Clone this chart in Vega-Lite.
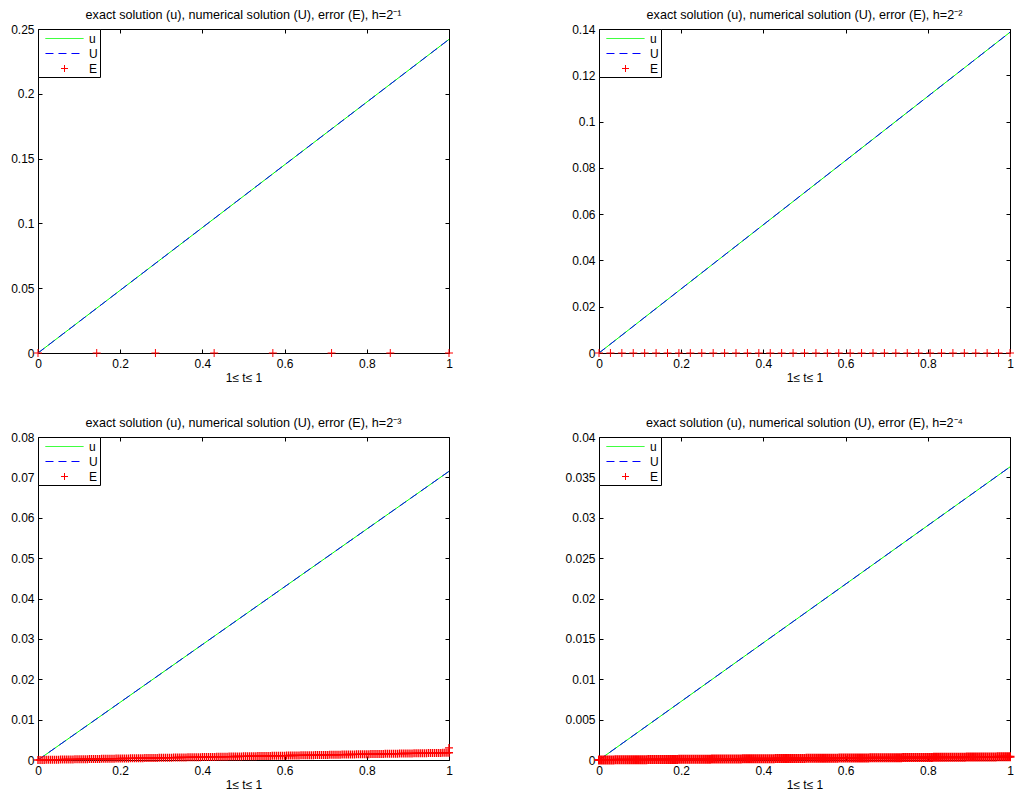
{
"$schema": "https://vega.github.io/schema/vega-lite/v6.json",
"background": "white",
"padding": {"left": 10, "top": 8, "right": 5, "bottom": 5},
"datasets": {
"err34": [
{"t":0,"e3":0,"e4":0},{"t":0.005,"e3":0.000009,"e4":0.000002},{"t":0.01,"e3":0.000018,"e4":0.000004},{"t":0.015,"e3":0.000027,"e4":0.000006},{"t":0.02,"e3":0.000036,"e4":0.000008},
{"t":0.025,"e3":0.000045,"e4":0.00001},{"t":0.03,"e3":0.000054,"e4":0.000012},{"t":0.035,"e3":0.000063,"e4":0.000014},{"t":0.04,"e3":0.000072,"e4":0.000016},{"t":0.045,"e3":0.000081,"e4":0.000018},
{"t":0.05,"e3":0.00009,"e4":0.00002},{"t":0.055,"e3":0.000099,"e4":0.000022},{"t":0.06,"e3":0.000108,"e4":0.000024},{"t":0.065,"e3":0.000117,"e4":0.000026},{"t":0.07,"e3":0.000126,"e4":0.000028},
{"t":0.075,"e3":0.000135,"e4":0.00003},{"t":0.08,"e3":0.000144,"e4":0.000032},{"t":0.085,"e3":0.000153,"e4":0.000034},{"t":0.09,"e3":0.000162,"e4":0.000036},{"t":0.095,"e3":0.000171,"e4":0.000038},
{"t":0.1,"e3":0.00018,"e4":0.00004},{"t":0.105,"e3":0.000189,"e4":0.000042},{"t":0.11,"e3":0.000198,"e4":0.000044},{"t":0.115,"e3":0.000207,"e4":0.000046},{"t":0.12,"e3":0.000216,"e4":0.000048},
{"t":0.125,"e3":0.000225,"e4":0.00005},{"t":0.13,"e3":0.000234,"e4":0.000052},{"t":0.135,"e3":0.000243,"e4":0.000054},{"t":0.14,"e3":0.000252,"e4":0.000056},{"t":0.145,"e3":0.000261,"e4":0.000058},
{"t":0.15,"e3":0.00027,"e4":0.00006},{"t":0.155,"e3":0.000279,"e4":0.000062},{"t":0.16,"e3":0.000288,"e4":0.000064},{"t":0.165,"e3":0.000297,"e4":0.000066},{"t":0.17,"e3":0.000306,"e4":0.000068},
{"t":0.175,"e3":0.000315,"e4":0.00007},{"t":0.18,"e3":0.000324,"e4":0.000072},{"t":0.185,"e3":0.000333,"e4":0.000074},{"t":0.19,"e3":0.000342,"e4":0.000076},{"t":0.195,"e3":0.000351,"e4":0.000078},
{"t":0.2,"e3":0.00036,"e4":0.00008},{"t":0.205,"e3":0.000369,"e4":0.000082},{"t":0.21,"e3":0.000378,"e4":0.000084},{"t":0.215,"e3":0.000387,"e4":0.000086},{"t":0.22,"e3":0.000396,"e4":0.000088},
{"t":0.225,"e3":0.000405,"e4":0.00009},{"t":0.23,"e3":0.000414,"e4":0.000092},{"t":0.235,"e3":0.000423,"e4":0.000094},{"t":0.24,"e3":0.000432,"e4":0.000096},{"t":0.245,"e3":0.000441,"e4":0.000098},
{"t":0.25,"e3":0.00045,"e4":0.0001},{"t":0.255,"e3":0.000459,"e4":0.000102},{"t":0.26,"e3":0.000468,"e4":0.000104},{"t":0.265,"e3":0.000477,"e4":0.000106},{"t":0.27,"e3":0.000486,"e4":0.000108},
{"t":0.275,"e3":0.000495,"e4":0.00011},{"t":0.28,"e3":0.000504,"e4":0.000112},{"t":0.285,"e3":0.000513,"e4":0.000114},{"t":0.29,"e3":0.000522,"e4":0.000116},{"t":0.295,"e3":0.000531,"e4":0.000118},
{"t":0.3,"e3":0.00054,"e4":0.00012},{"t":0.305,"e3":0.000549,"e4":0.000122},{"t":0.31,"e3":0.000558,"e4":0.000124},{"t":0.315,"e3":0.000567,"e4":0.000126},{"t":0.32,"e3":0.000576,"e4":0.000128},
{"t":0.325,"e3":0.000585,"e4":0.00013},{"t":0.33,"e3":0.000594,"e4":0.000132},{"t":0.335,"e3":0.000603,"e4":0.000134},{"t":0.34,"e3":0.000612,"e4":0.000136},{"t":0.345,"e3":0.000621,"e4":0.000138},
{"t":0.35,"e3":0.00063,"e4":0.00014},{"t":0.355,"e3":0.000639,"e4":0.000142},{"t":0.36,"e3":0.000648,"e4":0.000144},{"t":0.365,"e3":0.000657,"e4":0.000146},{"t":0.37,"e3":0.000666,"e4":0.000148},
{"t":0.375,"e3":0.000675,"e4":0.00015},{"t":0.38,"e3":0.000684,"e4":0.000152},{"t":0.385,"e3":0.000693,"e4":0.000154},{"t":0.39,"e3":0.000702,"e4":0.000156},{"t":0.395,"e3":0.000711,"e4":0.000158},
{"t":0.4,"e3":0.00072,"e4":0.00016},{"t":0.405,"e3":0.000729,"e4":0.000162},{"t":0.41,"e3":0.000738,"e4":0.000164},{"t":0.415,"e3":0.000747,"e4":0.000166},{"t":0.42,"e3":0.000756,"e4":0.000168},
{"t":0.425,"e3":0.000765,"e4":0.00017},{"t":0.43,"e3":0.000774,"e4":0.000172},{"t":0.435,"e3":0.000783,"e4":0.000174},{"t":0.44,"e3":0.000792,"e4":0.000176},{"t":0.445,"e3":0.000801,"e4":0.000178},
{"t":0.45,"e3":0.00081,"e4":0.00018},{"t":0.455,"e3":0.000819,"e4":0.000182},{"t":0.46,"e3":0.000828,"e4":0.000184},{"t":0.465,"e3":0.000837,"e4":0.000186},{"t":0.47,"e3":0.000846,"e4":0.000188},
{"t":0.475,"e3":0.000855,"e4":0.00019},{"t":0.48,"e3":0.000864,"e4":0.000192},{"t":0.485,"e3":0.000873,"e4":0.000194},{"t":0.49,"e3":0.000882,"e4":0.000196},{"t":0.495,"e3":0.000891,"e4":0.000198},
{"t":0.5,"e3":0.0009,"e4":0.0002},{"t":0.505,"e3":0.000909,"e4":0.000202},{"t":0.51,"e3":0.000918,"e4":0.000204},{"t":0.515,"e3":0.000927,"e4":0.000206},{"t":0.52,"e3":0.000936,"e4":0.000208},
{"t":0.525,"e3":0.000945,"e4":0.00021},{"t":0.53,"e3":0.000954,"e4":0.000212},{"t":0.535,"e3":0.000963,"e4":0.000214},{"t":0.54,"e3":0.000972,"e4":0.000216},{"t":0.545,"e3":0.000981,"e4":0.000218},
{"t":0.55,"e3":0.00099,"e4":0.00022},{"t":0.555,"e3":0.000999,"e4":0.000222},{"t":0.56,"e3":0.001008,"e4":0.000224},{"t":0.565,"e3":0.001017,"e4":0.000226},{"t":0.57,"e3":0.001026,"e4":0.000228},
{"t":0.575,"e3":0.001035,"e4":0.00023},{"t":0.58,"e3":0.001044,"e4":0.000232},{"t":0.585,"e3":0.001053,"e4":0.000234},{"t":0.59,"e3":0.001062,"e4":0.000236},{"t":0.595,"e3":0.001071,"e4":0.000238},
{"t":0.6,"e3":0.00108,"e4":0.00024},{"t":0.605,"e3":0.001089,"e4":0.000242},{"t":0.61,"e3":0.001098,"e4":0.000244},{"t":0.615,"e3":0.001107,"e4":0.000246},{"t":0.62,"e3":0.001116,"e4":0.000248},
{"t":0.625,"e3":0.001125,"e4":0.00025},{"t":0.63,"e3":0.001134,"e4":0.000252},{"t":0.635,"e3":0.001143,"e4":0.000254},{"t":0.64,"e3":0.001152,"e4":0.000256},{"t":0.645,"e3":0.001161,"e4":0.000258},
{"t":0.65,"e3":0.00117,"e4":0.00026},{"t":0.655,"e3":0.001179,"e4":0.000262},{"t":0.66,"e3":0.001188,"e4":0.000264},{"t":0.665,"e3":0.001197,"e4":0.000266},{"t":0.67,"e3":0.001206,"e4":0.000268},
{"t":0.675,"e3":0.001215,"e4":0.00027},{"t":0.68,"e3":0.001224,"e4":0.000272},{"t":0.685,"e3":0.001233,"e4":0.000274},{"t":0.69,"e3":0.001242,"e4":0.000276},{"t":0.695,"e3":0.001251,"e4":0.000278},
{"t":0.7,"e3":0.00126,"e4":0.00028},{"t":0.705,"e3":0.001269,"e4":0.000282},{"t":0.71,"e3":0.001278,"e4":0.000284},{"t":0.715,"e3":0.001287,"e4":0.000286},{"t":0.72,"e3":0.001296,"e4":0.000288},
{"t":0.725,"e3":0.001305,"e4":0.00029},{"t":0.73,"e3":0.001314,"e4":0.000292},{"t":0.735,"e3":0.001323,"e4":0.000294},{"t":0.74,"e3":0.001332,"e4":0.000296},{"t":0.745,"e3":0.001341,"e4":0.000298},
{"t":0.75,"e3":0.00135,"e4":0.0003},{"t":0.755,"e3":0.001359,"e4":0.000302},{"t":0.76,"e3":0.001368,"e4":0.000304},{"t":0.765,"e3":0.001377,"e4":0.000306},{"t":0.77,"e3":0.001386,"e4":0.000308},
{"t":0.775,"e3":0.001395,"e4":0.00031},{"t":0.78,"e3":0.001404,"e4":0.000312},{"t":0.785,"e3":0.001413,"e4":0.000314},{"t":0.79,"e3":0.001422,"e4":0.000316},{"t":0.795,"e3":0.001431,"e4":0.000318},
{"t":0.8,"e3":0.00144,"e4":0.00032},{"t":0.805,"e3":0.001449,"e4":0.000322},{"t":0.81,"e3":0.001458,"e4":0.000324},{"t":0.815,"e3":0.001467,"e4":0.000326},{"t":0.82,"e3":0.001476,"e4":0.000328},
{"t":0.825,"e3":0.001485,"e4":0.00033},{"t":0.83,"e3":0.001494,"e4":0.000332},{"t":0.835,"e3":0.001503,"e4":0.000334},{"t":0.84,"e3":0.001512,"e4":0.000336},{"t":0.845,"e3":0.001521,"e4":0.000338},
{"t":0.85,"e3":0.00153,"e4":0.00034},{"t":0.855,"e3":0.001539,"e4":0.000342},{"t":0.86,"e3":0.001548,"e4":0.000344},{"t":0.865,"e3":0.001557,"e4":0.000346},{"t":0.87,"e3":0.001566,"e4":0.000348},
{"t":0.875,"e3":0.001575,"e4":0.00035},{"t":0.88,"e3":0.001584,"e4":0.000352},{"t":0.885,"e3":0.001593,"e4":0.000354},{"t":0.89,"e3":0.001602,"e4":0.000356},{"t":0.895,"e3":0.001611,"e4":0.000358},
{"t":0.9,"e3":0.00162,"e4":0.00036},{"t":0.905,"e3":0.001629,"e4":0.000362},{"t":0.91,"e3":0.001638,"e4":0.000364},{"t":0.915,"e3":0.001647,"e4":0.000366},{"t":0.92,"e3":0.001656,"e4":0.000368},
{"t":0.925,"e3":0.001665,"e4":0.00037},{"t":0.93,"e3":0.001674,"e4":0.000372},{"t":0.935,"e3":0.001683,"e4":0.000374},{"t":0.94,"e3":0.001692,"e4":0.000376},{"t":0.945,"e3":0.001701,"e4":0.000378},
{"t":0.95,"e3":0.00171,"e4":0.00038},{"t":0.955,"e3":0.001719,"e4":0.000382},{"t":0.96,"e3":0.001728,"e4":0.000384},{"t":0.965,"e3":0.001737,"e4":0.000386},{"t":0.97,"e3":0.001746,"e4":0.000388},
{"t":0.975,"e3":0.001755,"e4":0.00039},{"t":0.98,"e3":0.001764,"e4":0.000392},{"t":0.985,"e3":0.001773,"e4":0.000394},{"t":0.99,"e3":0.001782,"e4":0.000396},{"t":0.995,"e3":0.001791,"e4":0.000398},
{"t":1,"e3":0.0018,"e4":0.0004},{"t":1,"e3":0.003}
]
},
"columns": 2,
"spacing": {"row": 32, "column": 107},
"resolve": {"scale": {"x": "independent", "y": "independent", "color": "independent"}, "legend": {"color": "independent"}},
"concat": [
{
"title": "exact solution (u), numerical solution (U), error (E), h=2⁻¹",
"width": 411, "height": 324,
"resolve": {"axis": {"x": "independent", "y": "independent"}},
"layer": [
{"data": {"values": [{"t":0,"v":0},{"t":1,"v":0.242}]},
 "mark": {"type": "line", "strokeWidth": 1},
 "encoding": {
  "x": {"field": "t", "type": "quantitative", "scale": {"domain": [0,1], "nice": false}, "axis": {"orient": "bottom", "values": [0,0.2,0.4,0.6,0.8,1], "format": "~g", "title": "1≤ t≤ 1", "tickSize": -4, "labelPadding": 9, "domain": false, "grid": false, "labelFlush": false, "labelOverlap": false, "titlePadding": 3}},
  "y": {"field": "v", "type": "quantitative", "scale": {"domain": [0,0.25], "nice": false}, "axis": {"orient": "left", "values": [0,0.05,0.1,0.15,0.2,0.25], "format": "~g", "title": null, "tickSize": -4, "labelPadding": 8, "domain": false, "grid": false, "labelFlush": false, "labelOverlap": false}},
  "color": {"datum": "u", "type": "nominal", "scale": {"domain": ["u","U","E"], "range": ["#00ff00","#0000ff","#ff0000"]},
   "legend": {"title": null, "orient": "top-left", "offset": 0, "padding": 2, "rowPadding": 1, "strokeColor": "#000", "fillColor": "#fff", "symbolSize": 196, "labelOffset": 34, "labelFontSize": 12, "labelFont": "Liberation Sans", "labelColor": "#000",
    "encode": {"symbols": {"update": {"shape": [{"test": "datum.value === 'E'", "value": "M1.93,0H2.93M2.43,-0.5V0.5"}, {"value": "M-0.29,0H5.14"}], "strokeDash": [{"test": "datum.value === 'U'", "value": [8,5]}, {"value": [1,0]}], "stroke": [{"test": "datum.value === 'u'", "value": "#00ff00"}, {"test": "datum.value === 'U'", "value": "#3333ff"}, {"value": "#ff0000"}], "strokeWidth": {"value": 1}, "fill": {"value": "transparent"}, "opacity": {"value": 1}, "strokeOpacity": {"value": 1}}}}}}
 }},
{"data": {"values": [{"t":0,"v":0},{"t":1,"v":0.242}]},
 "mark": {"type": "line", "strokeWidth": 1, "strokeDash": [8,5]},
 "encoding": {
  "x": {"field": "t", "type": "quantitative", "scale": {"domain": [0,1], "nice": false}, "axis": null},
  "y": {"field": "v", "type": "quantitative", "scale": {"domain": [0,0.25], "nice": false}, "axis": null},
  "color": {"datum": "U", "type": "nominal"}
 }},
{"data": {"values": [{"t":0,"v":0},{"t":0.142857,"v":0},{"t":0.285714,"v":0},{"t":0.428571,"v":0},{"t":0.571429,"v":0},{"t":0.714286,"v":0},{"t":0.857143,"v":0},{"t":1,"v":0}]},
 "mark": {"type": "point", "shape": "M-1,0H1M0,-1V1", "size": 64, "filled": false, "strokeWidth": 1, "opacity": 1},
 "encoding": {
  "x": {"field": "t", "type": "quantitative", "scale": {"domain": [0,1], "nice": false}, "axis": {"orient": "top", "values": [0,0.2,0.4,0.6,0.8,1], "labels": false, "title": null, "tickSize": -4, "domain": false, "grid": false}},
  "y": {"field": "v", "type": "quantitative", "scale": {"domain": [0,0.25], "nice": false}, "axis": {"orient": "right", "values": [0,0.05,0.1,0.15,0.2,0.25], "labels": false, "title": null, "tickSize": -4, "domain": false, "grid": false}},
  "color": {"datum": "E", "type": "nominal"}
 }}
]
},
{
"title": "exact solution (u), numerical solution (U), error (E), h=2⁻²",
"width": 411, "height": 324,
"resolve": {"axis": {"x": "independent", "y": "independent"}},
"layer": [
{"data": {"values": [{"t":0,"v":0},{"t":1,"v":0.1386}]},
 "mark": {"type": "line", "strokeWidth": 1},
 "encoding": {
  "x": {"field": "t", "type": "quantitative", "scale": {"domain": [0,1], "nice": false}, "axis": {"orient": "bottom", "values": [0,0.2,0.4,0.6,0.8,1], "format": "~g", "title": "1≤ t≤ 1", "tickSize": -4, "labelPadding": 9, "domain": false, "grid": false, "labelFlush": false, "labelOverlap": false, "titlePadding": 3}},
  "y": {"field": "v", "type": "quantitative", "scale": {"domain": [0,0.14], "nice": false}, "axis": {"orient": "left", "values": [0,0.02,0.04,0.06,0.08,0.1,0.12,0.14], "format": "~g", "title": null, "tickSize": -4, "labelPadding": 8, "domain": false, "grid": false, "labelFlush": false, "labelOverlap": false}},
  "color": {"datum": "u", "type": "nominal", "scale": {"domain": ["u","U","E"], "range": ["#00ff00","#0000ff","#ff0000"]},
   "legend": {"title": null, "orient": "top-left", "offset": 0, "padding": 2, "rowPadding": 1, "strokeColor": "#000", "fillColor": "#fff", "symbolSize": 196, "labelOffset": 34, "labelFontSize": 12, "labelFont": "Liberation Sans", "labelColor": "#000",
    "encode": {"symbols": {"update": {"shape": [{"test": "datum.value === 'E'", "value": "M1.93,0H2.93M2.43,-0.5V0.5"}, {"value": "M-0.29,0H5.14"}], "strokeDash": [{"test": "datum.value === 'U'", "value": [8,5]}, {"value": [1,0]}], "stroke": [{"test": "datum.value === 'u'", "value": "#00ff00"}, {"test": "datum.value === 'U'", "value": "#3333ff"}, {"value": "#ff0000"}], "strokeWidth": {"value": 1}, "fill": {"value": "transparent"}, "opacity": {"value": 1}, "strokeOpacity": {"value": 1}}}}}}
 }},
{"data": {"values": [{"t":0,"v":0},{"t":1,"v":0.1386}]},
 "mark": {"type": "line", "strokeWidth": 1, "strokeDash": [8,5]},
 "encoding": {
  "x": {"field": "t", "type": "quantitative", "scale": {"domain": [0,1], "nice": false}, "axis": null},
  "y": {"field": "v", "type": "quantitative", "scale": {"domain": [0,0.14], "nice": false}, "axis": null},
  "color": {"datum": "U", "type": "nominal"}
 }},
{"data": {"values": [{"t":0,"v":0},{"t":0.0278,"v":0},{"t":0.0556,"v":0},{"t":0.0833,"v":0},{"t":0.1111,"v":0},{"t":0.1389,"v":0},{"t":0.1667,"v":0},{"t":0.1944,"v":0},{"t":0.2222,"v":0},{"t":0.25,"v":0},{"t":0.2778,"v":0},{"t":0.3056,"v":0},{"t":0.3333,"v":0},{"t":0.3611,"v":0},{"t":0.3889,"v":0},{"t":0.4167,"v":0},{"t":0.4444,"v":0},{"t":0.4722,"v":0},{"t":0.5,"v":0},{"t":0.5278,"v":0},{"t":0.5556,"v":0},{"t":0.5833,"v":0},{"t":0.6111,"v":0},{"t":0.6389,"v":0},{"t":0.6667,"v":0},{"t":0.6944,"v":0},{"t":0.7222,"v":0},{"t":0.75,"v":0},{"t":0.7778,"v":0},{"t":0.8056,"v":0},{"t":0.8333,"v":0},{"t":0.8611,"v":0},{"t":0.8889,"v":0},{"t":0.9167,"v":0},{"t":0.9444,"v":0},{"t":0.9722,"v":0},{"t":1,"v":0}]},
 "mark": {"type": "point", "shape": "M-1,0H1M0,-1V1", "size": 64, "filled": false, "strokeWidth": 1, "opacity": 1},
 "encoding": {
  "x": {"field": "t", "type": "quantitative", "scale": {"domain": [0,1], "nice": false}, "axis": {"orient": "top", "values": [0,0.2,0.4,0.6,0.8,1], "labels": false, "title": null, "tickSize": -4, "domain": false, "grid": false}},
  "y": {"field": "v", "type": "quantitative", "scale": {"domain": [0,0.14], "nice": false}, "axis": {"orient": "right", "values": [0,0.02,0.04,0.06,0.08,0.1,0.12,0.14], "labels": false, "title": null, "tickSize": -4, "domain": false, "grid": false}},
  "color": {"datum": "E", "type": "nominal"}
 }}
]
},
{
"title": "exact solution (u), numerical solution (U), error (E), h=2⁻³",
"width": 411, "height": 323,
"resolve": {"axis": {"x": "independent", "y": "independent"}},
"layer": [
{"data": {"values": [{"t":0,"v":0},{"t":1,"v":0.0715}]},
 "mark": {"type": "line", "strokeWidth": 1},
 "encoding": {
  "x": {"field": "t", "type": "quantitative", "scale": {"domain": [0,1], "nice": false}, "axis": {"orient": "bottom", "values": [0,0.2,0.4,0.6,0.8,1], "format": "~g", "title": "1≤ t≤ 1", "tickSize": -4, "labelPadding": 9, "domain": false, "grid": false, "labelFlush": false, "labelOverlap": false, "titlePadding": 3}},
  "y": {"field": "v", "type": "quantitative", "scale": {"domain": [0,0.08], "nice": false}, "axis": {"orient": "left", "values": [0,0.01,0.02,0.03,0.04,0.05,0.06,0.07,0.08], "format": "~g", "title": null, "tickSize": -4, "labelPadding": 8, "domain": false, "grid": false, "labelFlush": false, "labelOverlap": false}},
  "color": {"datum": "u", "type": "nominal", "scale": {"domain": ["u","U","E"], "range": ["#00ff00","#0000ff","#ff0000"]},
   "legend": {"title": null, "orient": "top-left", "offset": 0, "padding": 2, "rowPadding": 1, "strokeColor": "#000", "fillColor": "#fff", "symbolSize": 196, "labelOffset": 34, "labelFontSize": 12, "labelFont": "Liberation Sans", "labelColor": "#000",
    "encode": {"symbols": {"update": {"shape": [{"test": "datum.value === 'E'", "value": "M1.93,0H2.93M2.43,-0.5V0.5"}, {"value": "M-0.29,0H5.14"}], "strokeDash": [{"test": "datum.value === 'U'", "value": [8,5]}, {"value": [1,0]}], "stroke": [{"test": "datum.value === 'u'", "value": "#00ff00"}, {"test": "datum.value === 'U'", "value": "#3333ff"}, {"value": "#ff0000"}], "strokeWidth": {"value": 1}, "fill": {"value": "transparent"}, "opacity": {"value": 1}, "strokeOpacity": {"value": 1}}}}}}
 }},
{"data": {"values": [{"t":0,"v":0},{"t":1,"v":0.0715}]},
 "mark": {"type": "line", "strokeWidth": 1, "strokeDash": [8,5]},
 "encoding": {
  "x": {"field": "t", "type": "quantitative", "scale": {"domain": [0,1], "nice": false}, "axis": null},
  "y": {"field": "v", "type": "quantitative", "scale": {"domain": [0,0.08], "nice": false}, "axis": null},
  "color": {"datum": "U", "type": "nominal"}
 }},
{"data": {"name": "err34"},
 "mark": {"type": "point", "shape": "M-1,0H1M0,-1V1", "size": 64, "filled": false, "strokeWidth": 1.4, "opacity": 1},
 "encoding": {
  "x": {"field": "t", "type": "quantitative", "scale": {"domain": [0,1], "nice": false}, "axis": {"orient": "top", "values": [0,0.2,0.4,0.6,0.8,1], "labels": false, "title": null, "tickSize": -4, "domain": false, "grid": false}},
  "y": {"field": "e3", "type": "quantitative", "scale": {"domain": [0,0.08], "nice": false}, "axis": {"orient": "right", "values": [0,0.01,0.02,0.03,0.04,0.05,0.06,0.07,0.08], "labels": false, "title": null, "tickSize": -4, "domain": false, "grid": false}},
  "color": {"datum": "E", "type": "nominal"}
 }}
]
},
{
"title": "exact solution (u), numerical solution (U), error (E), h=2⁻⁴",
"width": 411, "height": 323,
"resolve": {"axis": {"x": "independent", "y": "independent"}},
"layer": [
{"data": {"values": [{"t":0,"v":0},{"t":1,"v":0.0363}]},
 "mark": {"type": "line", "strokeWidth": 1},
 "encoding": {
  "x": {"field": "t", "type": "quantitative", "scale": {"domain": [0,1], "nice": false}, "axis": {"orient": "bottom", "values": [0,0.2,0.4,0.6,0.8,1], "format": "~g", "title": "1≤ t≤ 1", "tickSize": -4, "labelPadding": 9, "domain": false, "grid": false, "labelFlush": false, "labelOverlap": false, "titlePadding": 3}},
  "y": {"field": "v", "type": "quantitative", "scale": {"domain": [0,0.04], "nice": false}, "axis": {"orient": "left", "values": [0,0.005,0.01,0.015,0.02,0.025,0.03,0.035,0.04], "format": "~g", "title": null, "tickSize": -4, "labelPadding": 8, "domain": false, "grid": false, "labelFlush": false, "labelOverlap": false}},
  "color": {"datum": "u", "type": "nominal", "scale": {"domain": ["u","U","E"], "range": ["#00ff00","#0000ff","#ff0000"]},
   "legend": {"title": null, "orient": "top-left", "offset": 0, "padding": 2, "rowPadding": 1, "strokeColor": "#000", "fillColor": "#fff", "symbolSize": 196, "labelOffset": 34, "labelFontSize": 12, "labelFont": "Liberation Sans", "labelColor": "#000",
    "encode": {"symbols": {"update": {"shape": [{"test": "datum.value === 'E'", "value": "M1.93,0H2.93M2.43,-0.5V0.5"}, {"value": "M-0.29,0H5.14"}], "strokeDash": [{"test": "datum.value === 'U'", "value": [8,5]}, {"value": [1,0]}], "stroke": [{"test": "datum.value === 'u'", "value": "#00ff00"}, {"test": "datum.value === 'U'", "value": "#3333ff"}, {"value": "#ff0000"}], "strokeWidth": {"value": 1}, "fill": {"value": "transparent"}, "opacity": {"value": 1}, "strokeOpacity": {"value": 1}}}}}}
 }},
{"data": {"values": [{"t":0,"v":0},{"t":1,"v":0.0363}]},
 "mark": {"type": "line", "strokeWidth": 1, "strokeDash": [8,5]},
 "encoding": {
  "x": {"field": "t", "type": "quantitative", "scale": {"domain": [0,1], "nice": false}, "axis": null},
  "y": {"field": "v", "type": "quantitative", "scale": {"domain": [0,0.04], "nice": false}, "axis": null},
  "color": {"datum": "U", "type": "nominal"}
 }},
{"data": {"name": "err34"},
 "mark": {"type": "point", "shape": "M-1,0H1M0,-1V1", "size": 81, "filled": false, "strokeWidth": 2, "opacity": 1},
 "encoding": {
  "x": {"field": "t", "type": "quantitative", "scale": {"domain": [0,1], "nice": false}, "axis": {"orient": "top", "values": [0,0.2,0.4,0.6,0.8,1], "labels": false, "title": null, "tickSize": -4, "domain": false, "grid": false}},
  "y": {"field": "e4", "type": "quantitative", "scale": {"domain": [0,0.04], "nice": false}, "axis": {"orient": "right", "values": [0,0.005,0.01,0.015,0.02,0.025,0.03,0.035,0.04], "labels": false, "title": null, "tickSize": -4, "domain": false, "grid": false}},
  "color": {"datum": "E", "type": "nominal"}
 }}
]
}
],
"config": {
 "font": "Liberation Sans",
 "view": {"stroke": "#000", "strokeWidth": 1},
 "axis": {"labelFont": "Liberation Sans", "labelFontSize": 12, "labelColor": "#000", "tickColor": "#000", "tickWidth": 1, "titleFont": "Liberation Sans", "titleFontSize": 12, "titleFontWeight": "normal", "titleColor": "#000"},
 "title": {"font": "Liberation Sans", "fontSize": 12.6, "fontWeight": "normal", "color": "#000", "offset": 1}
}
}
